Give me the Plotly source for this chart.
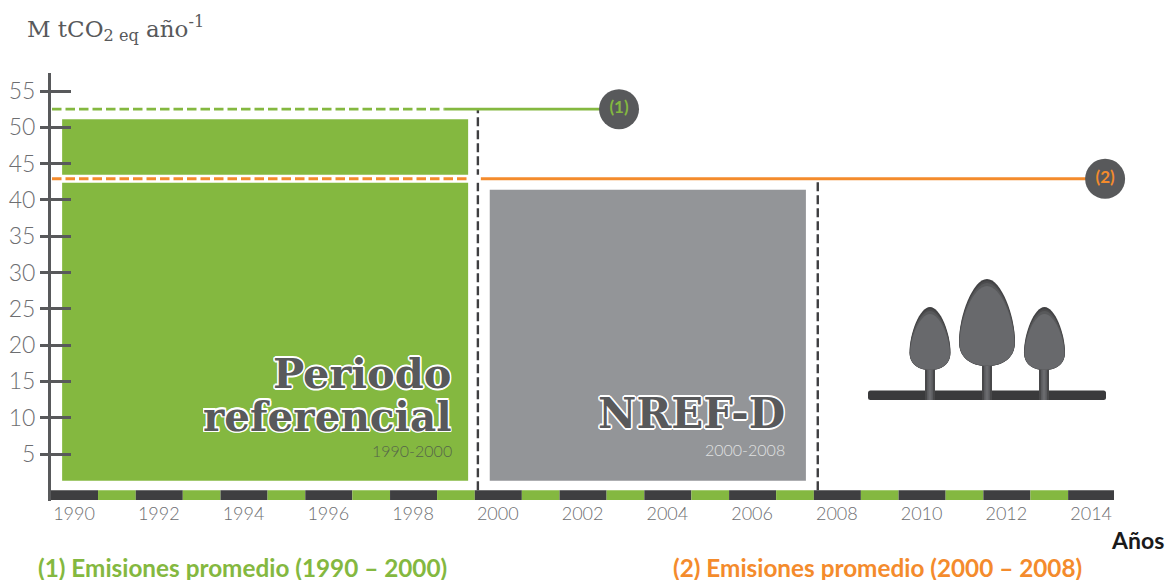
import plotly.graph_objects as go

# --- data -------------------------------------------------------------
periods = ["Periodo referencial", "NREF-D"]
period_start = [1989.72, 1999.81]
period_end = [1999.30, 2007.27]
period_top = [51.1, 41.4]
period_base = [1.3, 1.3]
avg_names = ["(1)", "(2)"]
avg_values = [52.5, 42.9]
avg_dash_end = [1998.75, 1999.3]
casing_end = [1998.75, 1999.6]
avg_solid_start = [1998.75, 1999.6]
avg_solid_end = [2002.8, 2013.9]
marker_x = [2002.86, 2014.33]
ref_x = [1999.53, 2007.55]
ref_top = [52.4, 42.8]
band_years = list(range(1990, 2015))
y_ticks = [5, 10, 15, 20, 25, 30, 35, 40, 45, 50, 55]
x_ticks = list(range(1990, 2015, 2))

DARK = "#3f3f41"
GREY = "#58595b"
GREEN = "#84b840"
ORANGE = "#f48b2c"
BAR_GREY = "#939598"
LABEL = "#6d6e71"

# pixel <-> data helpers for decoration only
PX_PER_YEAR = 42.38
PX_PER_UNIT = 7.26
X0 = 74.0
Y0 = 490.3
fx = lambda p: 1990 + (p - X0) / PX_PER_YEAR
fy = lambda p: (Y0 - p) / PX_PER_UNIT

fig = go.Figure()

# period blocks
fig.add_trace(go.Bar(
    x=[(a + b) / 2 for a, b in zip(period_start, period_end)],
    width=[b - a for a, b in zip(period_start, period_end)],
    y=[t - b for t, b in zip(period_top, period_base)],
    base=period_base,
    marker=dict(color=[GREEN, BAR_GREY], line_width=0),
    showlegend=False, name="periodos",
))

# alternating band on the time axis
band_w = [1.11 if y % 2 == 0 else 0.89 for y in band_years]
band_x = []
edge = fx(51)
for w in band_w:
    band_x.append(edge + w / 2)
    edge += w
fig.add_trace(go.Bar(
    x=band_x, width=band_w,
    y=[1.35] * len(band_years), base=[-1.35] * len(band_years),
    marker=dict(color=[DARK if y % 2 == 0 else GREEN for y in band_years], line_width=0),
    showlegend=False, name="años",
))

# vertical reference lines
for xv, top in zip(ref_x, ref_top):
    fig.add_trace(go.Scatter(
        x=[xv, xv], y=[0, top], mode="lines",
        line=dict(color=DARK, width=2.4, dash="9px,4px"),
        showlegend=False, cliponaxis=False,
    ))

# averages
colors = [GREEN, ORANGE]
widths = [2.6, 3]
for i in range(2):
    v = avg_values[i]
    fig.add_trace(go.Scatter(
        x=[fx(52), casing_end[i]], y=[v, v], mode="lines",
        line=dict(color="white", width=8),
        showlegend=False, cliponaxis=False,
    ))
    fig.add_trace(go.Scatter(
        x=[fx(52), avg_dash_end[i]], y=[v, v], mode="lines",
        line=dict(color=colors[i], width=widths[i], dash="9.5px,4px"),
        showlegend=False, cliponaxis=False,
    ))
    fig.add_trace(go.Scatter(
        x=[avg_solid_start[i], avg_solid_end[i]], y=[v, v], mode="lines",
        line=dict(color=colors[i], width=widths[i]),
        showlegend=False, cliponaxis=False,
    ))
    fig.add_trace(go.Scatter(
        x=[marker_x[i]], y=[v], mode="markers+text",
        marker=dict(color=GREY, size=40, line_width=0),
        text=[avg_names[i]], textposition="middle center",
        textfont=dict(color=colors[i], size=17, family="Lato", weight="bold"),
        showlegend=False, cliponaxis=False,
    ))

# invisible trace that keeps the overlay y axis alive
fig.add_trace(go.Scatter(x=[1990], y=[5], yaxis="y2", mode="markers",
                         marker=dict(opacity=0), showlegend=False, hoverinfo="skip"))


# --- tree icon ----------------------------------------------------------
def egg(cx, t, b, hw):
    h = b - t
    pts = [
        ("M", (cx, t)),
        ("C", (cx + 0.5 * hw, t), (cx + hw, t + 0.42 * h), (cx + hw, t + 0.72 * h)),
        ("C", (cx + hw, t + 0.92 * h), (cx + 0.5 * hw, b), (cx, b)),
        ("C", (cx - 0.5 * hw, b), (cx - hw, t + 0.92 * h), (cx - hw, t + 0.72 * h)),
        ("C", (cx - hw, t + 0.42 * h), (cx - 0.5 * hw, t), (cx, t)),
    ]
    s = ""
    for seg in pts:
        s += seg[0] + " ".join(f"{fx(x):.4f},{fy(y):.4f}" for x, y in seg[1:]) + " "
    return s + "Z"


def rounded(x0, y0, x1, y1, r):
    pts = [("M", (x0 + r, y0)), ("L", (x1 - r, y0)), ("Q", (x1, y0), (x1, y0 + r)),
           ("L", (x1, y1 - r)), ("Q", (x1, y1), (x1 - r, y1)), ("L", (x0 + r, y1)),
           ("Q", (x0, y1), (x0, y1 - r)), ("L", (x0, y0 + r)), ("Q", (x0, y0), (x0 + r, y0))]
    s = ""
    for seg in pts:
        s += seg[0] + " ".join(f"{fx(x):.4f},{fy(y):.4f}" for x, y in seg[1:]) + " "
    return s + "Z"


shapes = []


def add_path(path, color):
    shapes.append(dict(type="path", path=path, fillcolor=color, line_width=0,
                       xref="x", yref="y", layer="above"))


def add_rect(x0, y0, x1, y1, color):
    shapes.append(dict(type="rect", x0=fx(x0), x1=fx(x1), y0=fy(y0), y1=fy(y1),
                       fillcolor=color, line_width=0, xref="x", yref="y", layer="above"))


add_path(rounded(868, 390.5, 1106, 400, 2.5), "#3a3a3c")
for cx in (930, 987, 1044):
    add_rect(cx - 5, 362, cx + 5, 400, "#48484a")
    add_rect(cx - 3, 362, cx + 3, 400, "#5a5b5e")
    add_rect(cx - 1.5, 362, cx + 1.5, 400, "#6a6b6e")
for cx, t, b, hw in [(930, 307, 370, 20.5), (987, 279, 366, 28), (1044.5, 307, 370, 20.5)]:
    add_path(egg(cx, t, b, hw), "#404042")
    add_path(egg(cx, t + 2, b, hw - 0.2), "#4b4b4d")
    add_path(egg(cx, t + 4, b, hw - 0.4), "#58595b")
    add_path(egg(cx, t + 7, b - 0.5, hw - 0.7), "#68696c")

# --- annotations --------------------------------------------------------
W, H = 1168, 581
OUTLINE = ",".join(f"{dx}px {dy}px 0 #fff" for dx, dy in
                   [(-1.6, 0), (1.6, 0), (0, -1.6), (0, 1.6), (-1.2, -1.2), (1.2, -1.2), (-1.2, 1.2), (1.2, 1.2)])


def note(x, y, text, anchor="left", height=None, **font):
    return dict(xref="paper", yref="paper", x=x / W, y=1 - y / H, text=text, showarrow=False,
                xanchor=anchor, yanchor="middle", font=font, align=anchor, borderpad=0, height=height)


anns = [
    note(26, 28, "M tCO<sub>2 eq</sub> año<sup>-1</sup>", family="DejaVu Serif", size=23, color=GREY),
    note(453, 373, "Periodo", "right", height=41, family="DejaVu Serif", size=41.5, weight="bold", color=GREY, shadow=OUTLINE),
    note(453, 416.5, "referencial", "right", height=41, family="DejaVu Serif", size=40.5, weight="bold", color=GREY, shadow=OUTLINE),
    note(453, 450, "1990-2000", "right", family="Lato", size=16, weight=300, color="#55654a"),
    note(786, 413, "NREF-D", "right", family="DejaVu Serif", size=42, weight="bold", color=GREY, shadow=OUTLINE),
    note(786, 449, "2000-2008", "right", family="Lato", size=16, weight=300, color="#e0e1e2"),
    note(1165, 540, "Años", "right", family="Lato", size=23, weight="bold", color="#1a1a1a"),
    note(37, 567, "(1) Emisiones promedio (1990 – 2000)", height=26, family="Lato", size=24.3, weight="bold", color=GREEN),
    note(672, 567, "(2) Emisiones promedio (2000 – 2008)", height=26, family="Lato", size=24.3, weight="bold", color=ORANGE),
]

fig.update_layout(
    width=W, height=H, autosize=False,
    margin=dict(l=0, r=0, t=0, b=0),
    paper_bgcolor="white", plot_bgcolor="white",
    showlegend=False, barmode="overlay",
    shapes=shapes, annotations=anns,
    xaxis=dict(
        domain=[51 / W, 1114 / W], range=[fx(51), fx(1114)],
        tickmode="array", tickvals=x_ticks, ticktext=[str(v) for v in x_ticks],
        showgrid=False, zeroline=False, showline=False, ticks="",
        tickfont=dict(family="Lato", size=18, weight=300, color=LABEL),
    ),
    yaxis=dict(
        domain=[(H - 501) / H, (H - 73) / H], range=[fy(501), fy(73)],
        tickmode="array", tickvals=y_ticks, ticktext=[str(v) for v in y_ticks],
        showgrid=False, zeroline=False, showline=True, linecolor=GREY, linewidth=3,
        ticks="outside", ticklen=8, tickwidth=3, tickcolor=GREY,
        layer="below traces",
        tickfont=dict(family="Lato", size=23, weight=300, color=LABEL),
    ),
    yaxis2=dict(
        domain=[(H - 501) / H, (H - 73) / H], range=[fy(501), fy(73)], overlaying="y",
        side="left", anchor="x",
        tickmode="array", tickvals=y_ticks, showticklabels=False,
        showgrid=False, zeroline=False, showline=False,
        ticks="inside", ticklen=20, tickwidth=3, tickcolor=GREY,
        layer="above traces",
    ),
)

fig.write_html("out.html", config={"displayModeBar": False},
               post_script="document.body.style.margin='0';")
